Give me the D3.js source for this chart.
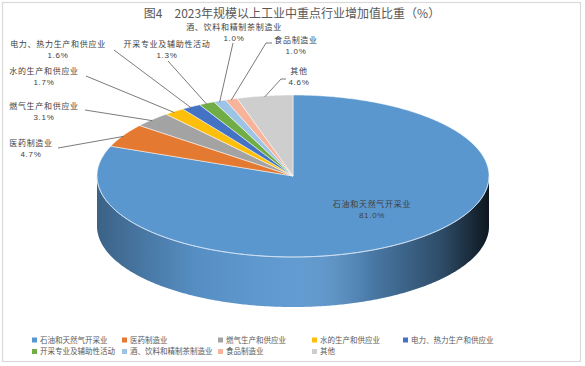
<!DOCTYPE html>
<meta charset="utf-8">
<style>
body { margin: 0; background: #fff; }
text { font-family: "Noto Sans CJK SC", "Noto Sans", sans-serif; }
text.pct { font-family: "Liberation Sans", "DejaVu Sans", sans-serif; }
</style>
<svg width="585" height="366"></svg>
<script src="https://d3js.org/d3.v7.min.js"></script>
<script>

// data
var categories = ["石油和天然气开采业", "医药制造业", "燃气生产和供应业", "水的生产和供应业",
  "电力、热力生产和供应业", "开采专业及辅助性活动", "酒、饮料和精制茶制造业", "食品制造业", "其他"];
var values = [81.0, 4.7, 3.1, 1.7, 1.6, 1.3, 1.0, 1.0, 4.6];
var colors = ["#5b97cf", "#e47a32", "#a3a3a3", "#fdbf0c", "#4472c4", "#70ad47", "#9dc3e6", "#f8b49a", "#cecece"];
var title = "图4　2023年规模以上工业中重点行业增加值比重（%）";

// label layout: text centre x, name line y, leader start
var labelPos = [
  {x: 372, y: 206, line: null},
  {x: 31, y: 145, line: [58, 148]},
  {x: 44, y: 108, line: [85, 110]},
  {x: 44, y: 73, line: [86, 76]},
  {x: 58, y: 46, line: [114, 50]},
  {x: 167, y: 46, line: [168, 61]},
  {x: 234, y: 29, line: [233, 43]},
  {x: 296, y: 42, line: [272, 43], stub: 6},
  {x: 299, y: 73, line: [286, 79], stub: 5}
];
var legendCols = [32, 122, 218, 312, 403];

var svg = d3.select("svg");

svg.append("rect")
  .attr("x", 2.5).attr("y", 2.5)
  .attr("width", 578).attr("height", 359)
  .attr("fill", "#fff")
  .attr("stroke", "#d9d9d9")
  .attr("stroke-width", 1.2);

svg.append("text")
  .attr("x", 292).attr("y", 14)
  .attr("text-anchor", "middle")
  .attr("dy", "0.35em")
  .attr("font-size", 12)
  .attr("fill", "#595959")
  .text(title);

var cx = 293, cy = 176, rx = 196, ry = 81, depth = 50;

function px(a) { return cx + rx * Math.sin(a); }
function py(a) { return cy - ry * Math.cos(a); }

function arcPoints(a0, a1, dy) {
  var pts = [], n = Math.max(2, Math.ceil((a1 - a0) / 0.01));
  for (var i = 0; i <= n; i++) {
    var a = a0 + (a1 - a0) * i / n;
    pts.push([px(a), py(a) + dy]);
  }
  return pts;
}

var pie = d3.pie().sort(null).value(function(d) { return d; });
var arcs = pie(values);

var defs = svg.append("defs");
var grad = defs.append("linearGradient")
  .attr("id", "shade")
  .attr("gradientUnits", "userSpaceOnUse")
  .attr("x1", cx - rx).attr("x2", cx + rx)
  .attr("y1", 0).attr("y2", 0);
[[0, "#000", 0.35], [0.25, "#000", 0.06], [0.5, "#fff", 0.04], [0.7, "#000", 0.2],
 [0.88, "#000", 0.5], [1, "#000", 0.85]].forEach(function(s) {
  grad.append("stop").attr("offset", s[0]).attr("stop-color", s[1]).attr("stop-opacity", s[2]);
});

var line = d3.line();

// side walls (front half only)
arcs.forEach(function(d, i) {
  var a0 = Math.max(d.startAngle, Math.PI / 2), a1 = Math.min(d.endAngle, Math.PI * 1.5);
  if (a1 <= a0) return;
  var top = arcPoints(a0, a1, 0), bottom = arcPoints(a0, a1, depth).reverse();
  var p = line(top.concat(bottom)) + "Z";
  svg.append("path").attr("d", p).attr("fill", colors[i]);
  svg.append("path").attr("d", p).attr("fill", "url(#shade)");
});

// top face
svg.append("g").selectAll("path")
  .data(arcs)
  .enter().append("path")
  .attr("d", function(d) {
    return line([[cx, cy]].concat(arcPoints(d.startAngle, d.endAngle, 0))) + "Z";
  })
  .attr("fill", function(d, i) { return colors[i]; })
  .attr("stroke", "#fff")
  .attr("stroke-width", 0.5)
  .attr("stroke-linejoin", "round");

// light rim between top and side
svg.append("path")
  .attr("d", line(arcPoints(Math.PI / 2, Math.PI * 1.5, 0)))
  .attr("fill", "none")
  .attr("stroke", "#cfe0f2")
  .attr("stroke-width", 0.8);

// leader lines
var leaders = svg.append("g").attr("fill", "none").attr("stroke", "#595959").attr("stroke-width", 0.8);
arcs.forEach(function(d, i) {
  var lp = labelPos[i];
  if (!lp.line) return;
  var mid = (d.startAngle + d.endAngle) / 2;
  var pts = [lp.line];
  if (lp.stub) pts.push([lp.line[0] - lp.stub, lp.line[1]]);
  pts.push([px(mid), py(mid) + 1]);
  leaders.append("path").attr("d", line(pts));
});

// data labels
var labels = svg.append("g")
  .attr("font-size", 8)
  .attr("letter-spacing", 0.7)
  .attr("fill", "#404040")
  .attr("text-anchor", "middle");
arcs.forEach(function(d, i) {
  var lp = labelPos[i];
  labels.append("text").attr("x", lp.x).attr("y", lp.y - 1.5).attr("dy", "0.35em").text(categories[i]);
  labels.append("text").attr("class", "pct").attr("x", lp.x).attr("y", lp.y + 9.5).attr("dy", "0.35em")
    .text(d3.format(".1f")(values[i]) + "%");
});

// legend
var legend = svg.append("g").attr("font-size", 7.5).attr("fill", "#595959");
categories.forEach(function(c, i) {
  var col = i % 5, row = Math.floor(i / 5);
  var x = legendCols[col], y = 340 + row * 11.5;
  legend.append("rect").attr("x", x).attr("y", y - 2.5).attr("width", 5).attr("height", 5).attr("fill", colors[i]);
  legend.append("text").attr("x", x + 8).attr("y", y).attr("dy", "0.35em").text(c);
});

</script>
